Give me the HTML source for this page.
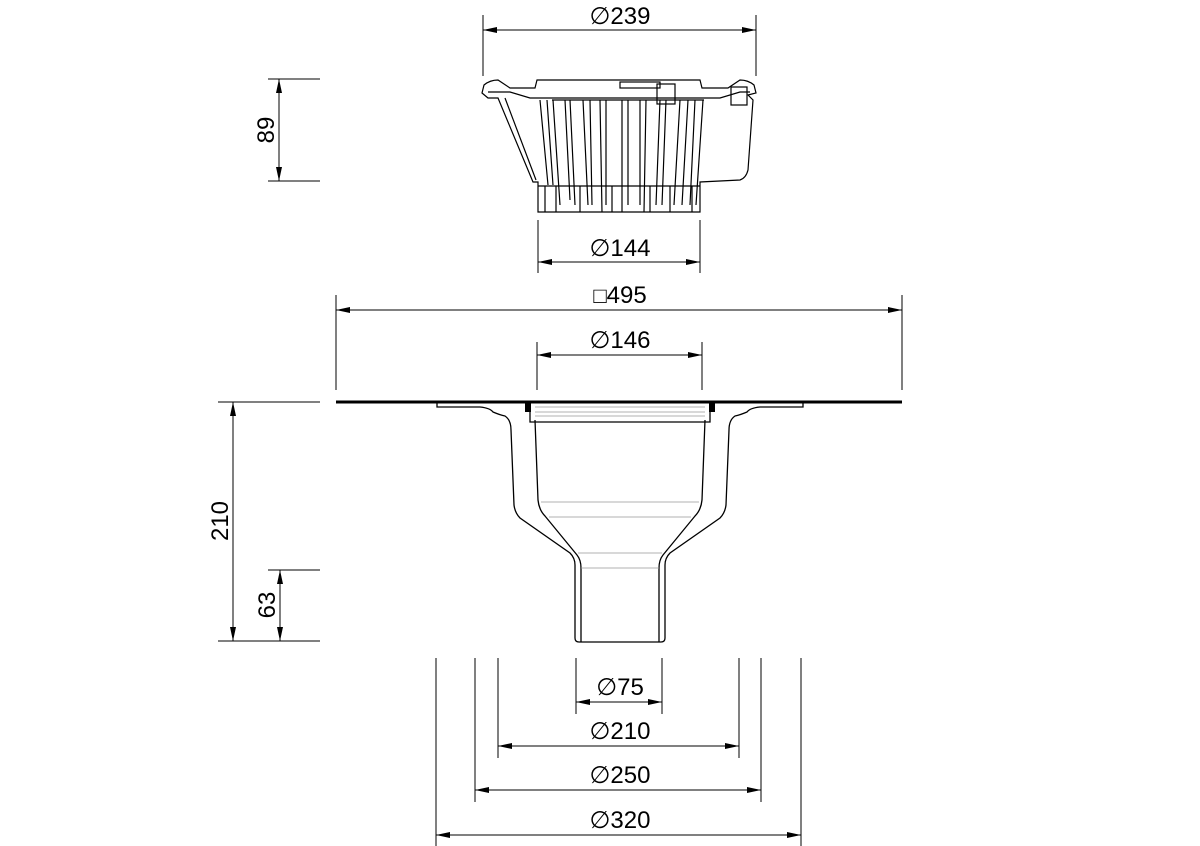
<!DOCTYPE html>
<html><head><style>html,body{margin:0;padding:0;background:#fff}svg{display:block}text{font-family:"Liberation Sans",sans-serif;font-size:24px;fill:#000}</style></head>
<body>
<svg width="1200" height="846" viewBox="0 0 1200 846" xmlns="http://www.w3.org/2000/svg">
<defs>
<marker id="a" viewBox="0 0 14 6" refX="14" refY="3" markerWidth="14" markerHeight="6" orient="auto-start-reverse" markerUnits="userSpaceOnUse"><path d="M0,0 L14,3 L0,6 Z" fill="#000"/></marker>
</defs>
<g stroke="#000" stroke-width="1" fill="none">
<line x1="483" y1="15" x2="483" y2="76"/><line x1="756" y1="15" x2="756" y2="76"/>
<line x1="483" y1="30" x2="756" y2="30" marker-start="url(#a)" marker-end="url(#a)"/>
<line x1="538" y1="220" x2="538" y2="273"/><line x1="700" y1="220" x2="700" y2="273"/>
<line x1="538" y1="262" x2="700" y2="262" marker-start="url(#a)" marker-end="url(#a)"/>
<line x1="336" y1="295" x2="336" y2="390"/><line x1="902" y1="295" x2="902" y2="390"/>
<line x1="336" y1="310" x2="902" y2="310" marker-start="url(#a)" marker-end="url(#a)"/>
<line x1="537" y1="342" x2="537" y2="390"/><line x1="702" y1="342" x2="702" y2="390"/>
<line x1="537" y1="355" x2="702" y2="355" marker-start="url(#a)" marker-end="url(#a)"/>
<line x1="268" y1="79" x2="320" y2="79"/><line x1="268" y1="181" x2="320" y2="181"/>
<line x1="279" y1="79" x2="279" y2="181" marker-start="url(#a)" marker-end="url(#a)"/>
<line x1="218" y1="402" x2="320" y2="402"/><line x1="218" y1="641" x2="320" y2="641"/>
<line x1="233" y1="402" x2="233" y2="641" marker-start="url(#a)" marker-end="url(#a)"/>
<line x1="268" y1="570" x2="320" y2="570"/>
<line x1="280" y1="570" x2="280" y2="641" marker-start="url(#a)" marker-end="url(#a)"/>
<line x1="436" y1="658" x2="436" y2="846"/><line x1="801" y1="658" x2="801" y2="846"/>
<line x1="475" y1="658" x2="475" y2="802"/><line x1="761" y1="658" x2="761" y2="802"/>
<line x1="498" y1="658" x2="498" y2="758"/><line x1="739" y1="658" x2="739" y2="758"/>
<line x1="576" y1="658" x2="576" y2="714"/><line x1="662" y1="658" x2="662" y2="714"/>
<line x1="576" y1="702" x2="662" y2="702" marker-start="url(#a)" marker-end="url(#a)"/>
<line x1="498" y1="746" x2="739" y2="746" marker-start="url(#a)" marker-end="url(#a)"/>
<line x1="475" y1="790" x2="761" y2="790" marker-start="url(#a)" marker-end="url(#a)"/>
<line x1="436" y1="835" x2="801" y2="835" marker-start="url(#a)" marker-end="url(#a)"/>
</g>
<line x1="336" y1="402" x2="902" y2="402" stroke="#000" stroke-width="3"/>
<g stroke="#000" stroke-width="1.3" fill="none">
<path d="M437,403 L437,407 L480,407 Q490,408 493,412 Q500,415 505,416 Q511,420 511,430 L514,505 Q515,513 520,518 L570,553 Q575,558 575,565 L575,638 Q575,642 579,642 L661,642 Q665,642 665,638 L665,565 Q665,558 670,553 L720,518 Q725,513 726,505 L729,430 Q729,420 735,416 Q740,415 747,412 Q750,408 760,407 L803,407 L803,403"/>
<path d="M535,420 L538,500 Q539,510 545,516 L577,555 Q581,560 581,568 L581,642"/>
<path d="M705,420 L702,500 Q701,510 695,516 L663,555 Q659,560 659,568 L659,642"/>
<path d="M530,402 L530,422 L710,422 L710,402"/>
</g>
<g stroke="#999" stroke-width="0.8">
<line x1="535" y1="407" x2="705" y2="407"/><line x1="535" y1="412" x2="705" y2="412"/><line x1="535" y1="416" x2="705" y2="416"/>
<line x1="541" y1="502" x2="699" y2="502"/><line x1="549" y1="517" x2="691" y2="517"/>
<line x1="578" y1="553" x2="662" y2="553"/><line x1="581" y1="568" x2="659" y2="568"/>
</g>
<rect x="525" y="402" width="6" height="10" fill="#000"/><rect x="709" y="402" width="6" height="10" fill="#000"/>
<g stroke="#000" stroke-width="1.2" fill="none">
<path d="M482,93 L484,85 Q490,80 498,80 L510,88 L535,88 L537,80 L700,80 L702,88 L728,88 L740,80 Q748,80 754,85 L756,93 L748,95 L753,100 L748,170 Q746,178 740,180 L700,182 L700,212 L538,212 L538,182 L533,182 L498,98 L488,98 Z"/>
<path d="M488,92 L510,92 L530,98 L720,98 L740,92 L750,92"/>
<path d="M505,98 L536,180"/>
<rect x="731" y="87" width="16" height="18"/>
<path d="M552,100 L704,100"/>
<line x1="538" y1="186" x2="700" y2="186"/>
<path d="M540,100 L548,185 M547,100 L553,185 M553,100 L560,205 M565,100 L570,200 M570,100 L575,205 M583,100 L588,205 M590,100 L592,205 M600,100 L602,212 M606,100 L606,205 M622,100 L622,212 M628,100 L628,205 M640,100 L640,205 M646,100 L644,212 M660,100 L656,205 M666,100 L662,205 M680,100 L674,205 M688,100 L682,205 M695,100 L690,205 M703,100 L696,205"/>
<path d="M545,186 L545,212 M556,186 L556,212 M580,186 L580,212 M612,186 L612,212 M650,186 L650,212 M670,186 L670,212 M692,186 L692,212"/>
<rect x="620" y="82" width="40" height="6"/>
<rect x="657" y="84" width="18" height="20"/>
</g>
<text x="620" y="24" text-anchor="middle">∅239</text>
<text x="620" y="256" text-anchor="middle">∅144</text>
<text x="620" y="303" text-anchor="middle"><tspan font-size="22">□</tspan>495</text>
<text x="620" y="348" text-anchor="middle">∅146</text>
<text x="620" y="695" text-anchor="middle">∅75</text>
<text x="620" y="739" text-anchor="middle">∅210</text>
<text x="620" y="783" text-anchor="middle">∅250</text>
<text x="620" y="828" text-anchor="middle">∅320</text>
<text transform="translate(274,130) rotate(-90)" text-anchor="middle">89</text>
<text transform="translate(228,521) rotate(-90)" text-anchor="middle">210</text>
<text transform="translate(275,605) rotate(-90)" text-anchor="middle">63</text>
</svg>
</body></html>
